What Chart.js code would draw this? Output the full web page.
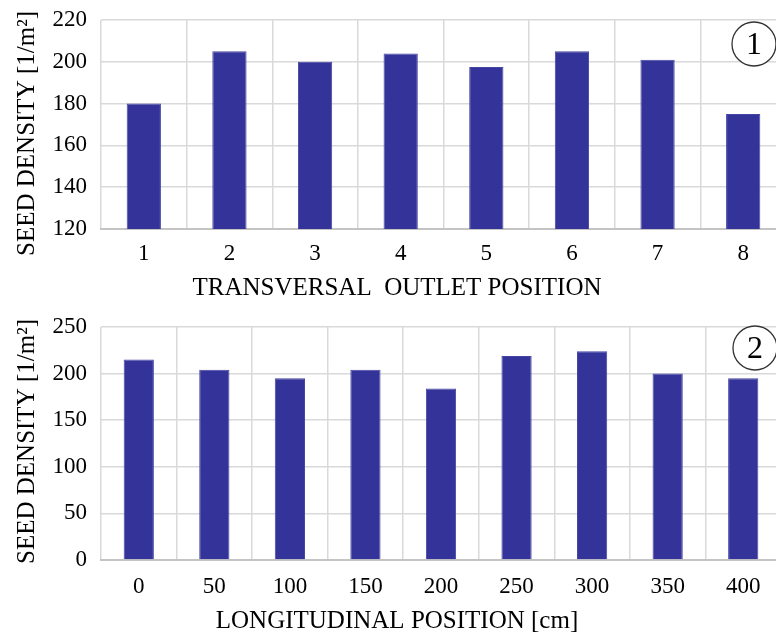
<!DOCTYPE html>
<html>
<head>
<meta charset="utf-8">
<script src="https://cdn.jsdelivr.net/npm/chart.js@4.4.1/dist/chart.umd.min.js"></script>
<style>
  html, body { margin: 0; padding: 0; background: #fff; overflow: hidden; width: 776px; height: 635px; }
  .wrap { position: absolute; left: 0; overflow: hidden; width: 776px; }
  canvas { display: block; }
</style>
</head>
<body>
<div class="wrap" style="top:0;height:305px"><canvas id="c1" width="786" height="305"></canvas></div>
<div class="wrap" style="top:305px;height:330px"><canvas id="c2" width="781" height="330"></canvas></div>
<script>
// ---- data ----
const transCategories = ['1', '2', '3', '4', '5', '6', '7', '8'];
const transValues = [180, 205, 200, 204, 197.5, 205, 201, 175];
const transTicks = [120, 140, 160, 180, 200, 220];

const longCategories = ['0', '50', '100', '150', '200', '250', '300', '350', '400'];
const longValues = [215, 204, 195, 204, 184, 219, 224, 200, 195];
const longTicks = [0, 50, 100, 150, 200, 250];

const yTitle = 'SEED DENSITY [1/m\u00B2]';
const xTitle1 = 'TRANSVERSAL  OUTLET POSITION';
const xTitle2 = 'LONGITUDINAL POSITION [cm]';

const FONT = "'Liberation Serif', 'Times New Roman', serif";
const BAR = '#333399';
const GRID = '#d9d9d9';

const extraPlugin = {
  id: 'extra',
  afterDraw(chart, args, opts) {
    const ctx = chart.ctx;
    const a = chart.chartArea;
    ctx.save();
    ctx.fillStyle = '#000';
    ctx.font = '25px ' + FONT;
    ctx.textAlign = 'center';
    ctx.textBaseline = 'middle';
    // x-axis title
    ctx.fillText(opts.xTitle, opts.xTitleX, opts.xTitleY);
    // rotated y-axis title
    ctx.translate(opts.titleX, (a.top + a.bottom) / 2 + opts.titleShift);
    ctx.rotate(-Math.PI / 2);
    ctx.fillText(opts.yTitle, 0, 0);
    ctx.restore();
    // circled panel number
    ctx.save();
    ctx.beginPath();
    ctx.arc(opts.cx, opts.cy, 22, 0, Math.PI * 2);
    ctx.fillStyle = '#fff';
    ctx.fill();
    ctx.lineWidth = 1.3;
    ctx.strokeStyle = '#333';
    ctx.stroke();
    ctx.fillStyle = '#000';
    ctx.font = '32px ' + FONT;
    ctx.textAlign = 'center';
    ctx.textBaseline = 'middle';
    ctx.fillText(opts.label, opts.cx, opts.cy + 2);
    ctx.restore();
  }
};

function makeChart(id, cats, vals, ticks, cfg) {
  return new Chart(document.getElementById(id), {
    type: 'bar',
    data: {
      labels: cats,
      datasets: [{
        data: vals,
        backgroundColor: BAR,
        borderColor: '#4545a4',
        borderWidth: 1,
        barPercentage: 0.4,
        categoryPercentage: 1.0
      }]
    },
    options: {
      responsive: false,
      animation: false,
      devicePixelRatio: 1,
      layout: { padding: { top: cfg.padTop, right: 0, left: 0, bottom: 0 } },
      plugins: {
        legend: { display: false },
        tooltip: { enabled: false },
        extra: cfg.extra
      },
      scales: {
        x: {
          grid: { color: GRID, lineWidth: 1.5, drawTicks: false, offset: true },
          border: { color: '#c4c4c4', width: 2 },
          ticks: { color: '#000', font: { family: FONT, size: 23 }, padding: cfg.tickPad, maxRotation: 0 },
          title: { display: false },
          afterFit(scale) { scale.height = cfg.xHeight; scale.paddingLeft = 0; scale.paddingRight = 0; }
        },
        y: {
          min: ticks[0],
          max: ticks[ticks.length - 1],
          afterBuildTicks(scale) { scale.ticks = ticks.map(v => ({ value: v })); },
          grid: { color: GRID, lineWidth: 1.5, drawTicks: false },
          border: { display: false },
          ticks: { color: '#000', font: { family: FONT, size: 23 }, padding: 14 },
          afterFit(scale) { scale.width = 101; scale.paddingTop = 0; scale.paddingBottom = 0; }
        }
      }
    },
    plugins: [extraPlugin]
  });
}

makeChart('c1', transCategories, transValues, transTicks, {
  padTop: 20, xHeight: 76, tickPad: 11,
  extra: { yTitle: yTitle, xTitle: xTitle1, xTitleX: 397, xTitleY: 288, titleX: 27, titleShift: 9, cx: 754, cy: 44, label: '1' }
});
makeChart('c2', longCategories, longValues, longTicks, {
  padTop: 22, xHeight: 75, tickPad: 13,
  extra: { yTitle: yTitle, xTitle: xTitle2, xTitleX: 397, xTitleY: 316, titleX: 27, titleShift: -2, cx: 755, cy: 43, label: '2' }
});
</script>
</body>
</html>
